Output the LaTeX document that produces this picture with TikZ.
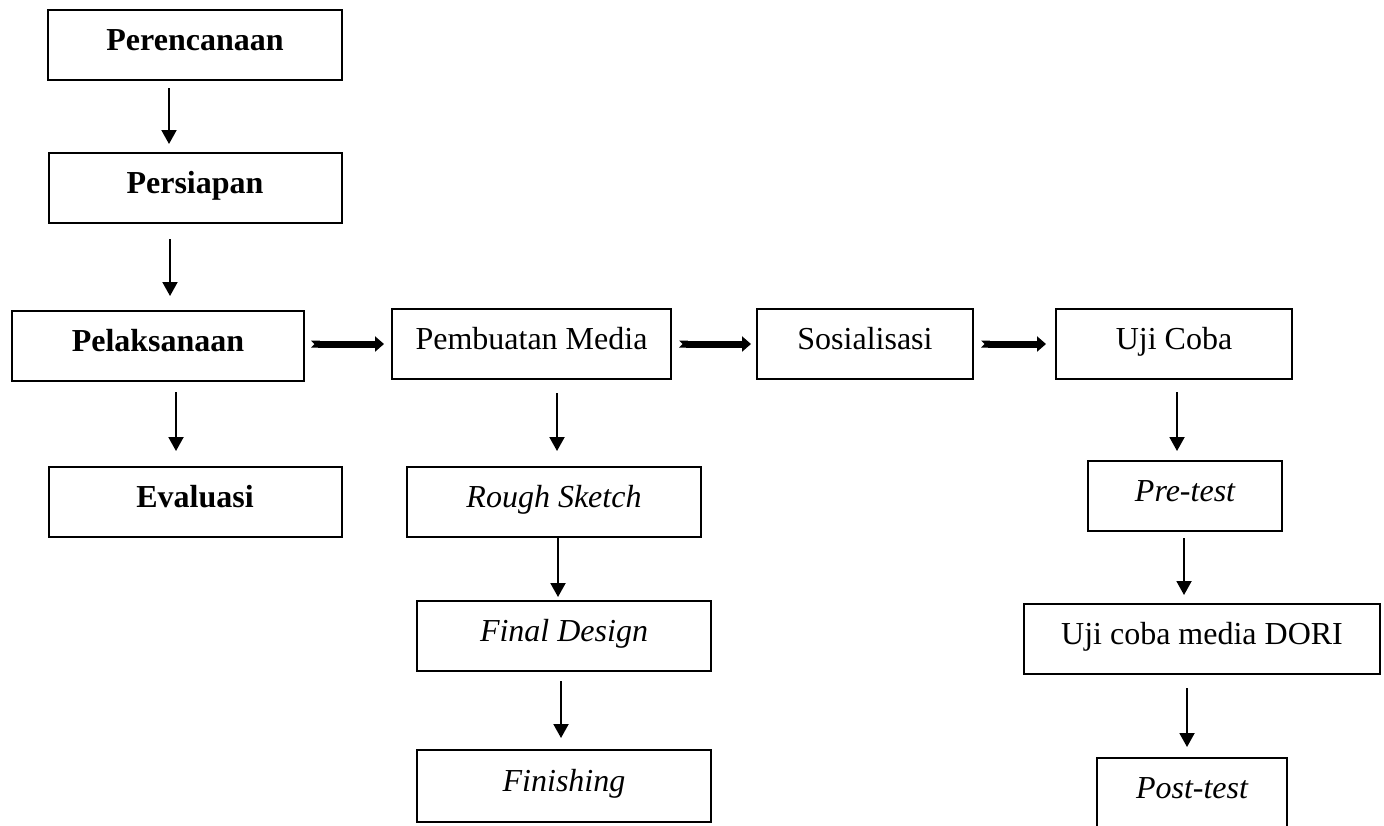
\documentclass[tikz,border=0pt]{standalone}
\usepackage{fontspec}
\setmainfont{Liberation Serif}
\usetikzlibrary{arrows.meta,calc}

\begin{document}
\begin{tikzpicture}[x=0.5pt,y=-0.5pt]
	\tikzstyle{every node}=[font=\fontsize{16}{19}\selectfont]
	\tikzstyle{biasa}=[draw,line width=1pt,minimum height=35pt,inner sep=0pt,text height=10pt,text depth=4.5pt]
	\tikzstyle{tebal}=[biasa,font=\fontsize{16}{19}\selectfont\bfseries]
	\tikzstyle{miring}=[biasa,font=\fontsize{16}{19}\selectfont\itshape]
	\tikzstyle{panah}=[line width=1pt,-{Triangle[length=7pt,width=7.5pt]}]
	\tikzstyle{panah tebal}=[line width=3.5pt,{Triangle Cap[reversed]}-{Triangle[length=4.5pt,width=7.5pt]}]
	\useasboundingbox (0,0) rectangle (1384,825);
	\node[tebal,minimum width=147pt] (per) at (195,45) {Perencanaan};
	\node[tebal,minimum width=146.5pt] (pers) at (195,188) {Persiapan};
	\node[tebal,minimum width=146pt] (pel) at (158,346) {Pelaksanaan};
	\node[tebal,minimum width=146.5pt] (eva) at (195,502) {Evaluasi};
	\node[biasa,minimum width=139.5pt] (pm) at (531.5,344) {Pembuatan Media};
	\node[biasa,minimum width=108pt] (sos) at (865,344) {Sosialisasi};
	\node[biasa,minimum width=118pt] (uji) at (1174,344) {Uji Coba};
	\node[miring,minimum width=147pt] (rough) at (554,502) {Rough Sketch};
	\node[miring,minimum width=147pt] (final) at (564,636) {Final Design};
	\node[miring,minimum width=147pt,minimum height=36pt] (fin) at (564,786) {Finishing};
	\node[miring,minimum width=97pt] (pre) at (1185,496) {Pre-test};
	\node[biasa,minimum width=178pt] (dori) at (1202,639) {Uji coba media DORI};
	\node[miring,minimum width=95pt] (post) at (1192,793) {Post-test};
	\draw[panah,shorten <=3.5pt,shorten >=4pt] ($(per.south)+(-26,0)$) -- ($(pers.north)+(-26,0)$);
	\draw[panah,shorten <=7.5pt,shorten >=7pt] ($(pers.south)+(-25,0)$) -- ($(pel.north)+(12,0)$);
	\draw[panah,shorten <=5pt,shorten >=7.5pt] ($(pel.south)+(18,0)$) -- ($(eva.north)+(-19,0)$);
	\draw[panah,shorten <=6.5pt,shorten >=7.5pt] ($(pm.south)+(25.5,0)$) -- ($(rough.north)+(3,0)$);
	\draw[panah,shorten >=1.5pt] ($(rough.south)+(4,0)$) -- ($(final.north)+(-6,0)$);
	\draw[panah,shorten <=4.5pt,shorten >=5.5pt] ($(final.south)+(-3,0)$) -- ($(fin.north)+(-3,0)$);
	\draw[panah,shorten <=6pt,shorten >=4.5pt] ($(uji.south)+(3,0)$) -- ($(pre.north)+(-8,0)$);
	\draw[panah,shorten <=3pt,shorten >=4pt] ($(pre.south)+(-1,0)$) -- ($(dori.north)+(-18,0)$);
	\draw[panah,shorten <=6.5pt,shorten >=5pt] ($(dori.south)+(-15,0)$) -- ($(post.north)+(-5,0)$);
	\draw[panah tebal,shorten <=3pt,shorten >=3.5pt] (pel.east |- pm.west) -- (pm.west);
	\draw[panah tebal,shorten <=3.5pt,shorten >=2.5pt] (pm.east) -- (sos.west);
	\draw[panah tebal,shorten <=3.5pt,shorten >=4.5pt] (sos.east) -- (uji.west);
\end{tikzpicture}
\end{document}
